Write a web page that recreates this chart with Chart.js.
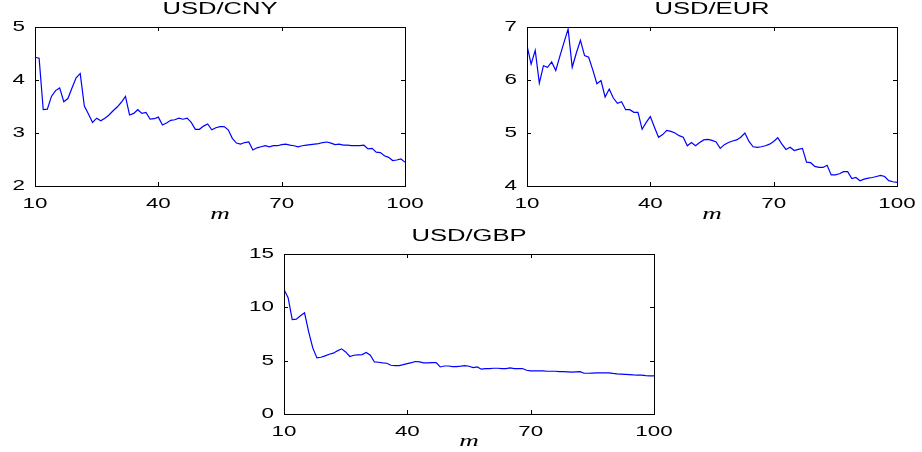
<!DOCTYPE html>
<html>
<head>
<meta charset="utf-8">
<script src="https://cdn.jsdelivr.net/npm/chart.js@4.4.0/dist/chart.umd.min.js"></script>
<style>
  html, body { margin: 0; padding: 0; background: #fff; width: 922px; height: 452px; overflow: hidden; }
  canvas { position: absolute; }
</style>
</head>
<body>
<canvas id="c1" width="440" height="225" style="left:0px;top:0px;width:440px;height:225px"></canvas>
<canvas id="c2" width="430" height="225" style="left:492px;top:0px;width:430px;height:225px"></canvas>
<canvas id="c3" width="440" height="225" style="left:239px;top:227px;width:440px;height:225px"></canvas>
<script>
// ---- data ----
const mValues = [10,11,12,13,14,15,16,17,18,19,20,21,22,23,24,25,26,27,28,29,30,31,32,33,34,35,36,37,38,39,
  40,41,42,43,44,45,46,47,48,49,50,51,52,53,54,55,56,57,58,59,60,61,62,63,64,65,66,67,68,69,
  70,71,72,73,74,75,76,77,78,79,80,81,82,83,84,85,86,87,88,89,90,91,92,93,94,95,96,97,98,99,100];

const usdCny = [4.43,4.41,3.44,3.45,3.69,3.80,3.85,3.59,3.65,3.85,4.04,4.12,3.51,3.36,3.20,3.28,3.23,3.28,3.34,3.42,
  3.49,3.58,3.69,3.34,3.37,3.44,3.37,3.39,3.26,3.27,3.30,3.15,3.19,3.24,3.25,3.28,3.26,3.28,3.20,3.07,
  3.07,3.13,3.17,3.06,3.10,3.12,3.12,3.06,2.90,2.81,2.79,2.82,2.83,2.68,2.72,2.74,2.76,2.74,2.76,2.76,
  2.78,2.79,2.77,2.76,2.74,2.76,2.77,2.78,2.79,2.80,2.82,2.83,2.81,2.78,2.79,2.77,2.77,2.76,2.76,2.76,
  2.77,2.70,2.71,2.64,2.63,2.57,2.54,2.48,2.49,2.51,2.45];

const usdEur = [6.65,6.30,6.56,5.94,6.27,6.24,6.34,6.18,6.45,6.71,6.96,6.24,6.51,6.75,6.46,6.43,6.19,5.93,5.99,5.68,
  5.83,5.66,5.56,5.59,5.44,5.44,5.39,5.39,5.07,5.20,5.31,5.11,4.92,4.97,5.05,5.03,5.00,4.95,4.92,4.76,
  4.82,4.76,4.82,4.87,4.88,4.86,4.83,4.71,4.78,4.82,4.85,4.87,4.92,5.00,4.84,4.74,4.73,4.74,4.76,4.79,
  4.84,4.91,4.79,4.69,4.73,4.67,4.69,4.71,4.45,4.44,4.37,4.35,4.35,4.39,4.21,4.21,4.23,4.27,4.27,4.14,
  4.16,4.10,4.13,4.15,4.16,4.18,4.20,4.18,4.10,4.08,4.07];

const usdGbp = [11.68,10.90,8.86,8.89,9.21,9.49,7.70,6.20,5.26,5.32,5.45,5.60,5.70,5.92,6.11,5.82,5.39,5.51,5.54,5.57,
  5.76,5.51,4.88,4.85,4.79,4.76,4.57,4.54,4.54,4.63,4.73,4.82,4.92,4.88,4.79,4.79,4.82,4.82,4.41,4.50,
  4.50,4.44,4.44,4.48,4.54,4.48,4.35,4.41,4.20,4.26,4.26,4.29,4.29,4.26,4.26,4.32,4.26,4.26,4.26,4.10,
  4.04,4.04,4.04,4.04,4.01,4.01,4.01,3.98,3.97,3.95,3.92,3.95,3.97,3.82,3.82,3.84,3.85,3.86,3.86,3.85,
  3.80,3.76,3.74,3.72,3.70,3.66,3.65,3.64,3.60,3.58,3.57];

const xTicks = [10, 40, 70, 100];
const panelTitles = ['USD/CNY', 'USD/EUR', 'USD/GBP'];
const xAxisLabel = 'm';

// ---- text rendering: the reference uses horizontally wide glyphs ----
const TEXT_STRETCH = 1.6;
const _fillText = CanvasRenderingContext2D.prototype.fillText;
CanvasRenderingContext2D.prototype.fillText = function (t, x, y) {
  this.save();
  this.translate(x, y);
  this.scale(TEXT_STRETCH, 1);
  _fillText.call(this, t, 0, 0);
  this.restore();
};

// box + inward ticks like MATLAB axes
const boxPlugin = {
  id: 'boxPlugin',
  afterDraw(chart) {
    const { ctx, chartArea: a, scales } = chart;
    ctx.save();
    ctx.strokeStyle = '#000';
    ctx.lineWidth = 1;
    ctx.strokeRect(Math.round(a.left) + 0.5, Math.round(a.top) + 0.5,
                   Math.round(a.right - a.left), Math.round(a.bottom - a.top));
    const L = 4;
    ctx.beginPath();
    scales.x.ticks.forEach(t => {
      const px = Math.round(scales.x.getPixelForValue(t.value)) + 0.5;
      ctx.moveTo(px, a.bottom); ctx.lineTo(px, a.bottom - L);
      ctx.moveTo(px, a.top); ctx.lineTo(px, a.top + L);
    });
    scales.y.ticks.forEach(t => {
      const py = Math.round(scales.y.getPixelForValue(t.value)) + 0.5;
      ctx.moveTo(a.left, py); ctx.lineTo(a.left + L, py);
      ctx.moveTo(a.right, py); ctx.lineTo(a.right - L, py);
    });
    ctx.stroke();
    ctx.restore();
  }
};

function makePanel(id, title, values, yMin, yMax, yStep, yAxisW, xAxisH, padRight) {
  const pts = mValues.map((m, i) => ({ x: m, y: values[i] }));
  return new Chart(document.getElementById(id), {
    type: 'line',
    data: {
      datasets: [{
        data: pts,
        borderColor: '#0000ff',
        borderWidth: 1.2,
        pointRadius: 0,
        tension: 0,
        fill: false
      }]
    },
    options: {
      responsive: false,
      animation: false,
      devicePixelRatio: 1,
      layout: { padding: { left: 0, right: padRight, top: 0, bottom: 0 } },
      plugins: {
        legend: { display: false },
        tooltip: { enabled: false },
        title: {
          display: true,
          text: title,
          fullSize: false,
          color: '#000',
          font: { family: 'Liberation Sans, Arial, sans-serif', size: 16, weight: 'normal', lineHeight: 1 },
          padding: { top: 2, bottom: 9 }
        }
      },
      scales: {
        x: {
          type: 'linear',
          min: 10, max: 100,
          afterBuildTicks: s => { s.ticks = xTicks.map(v => ({ value: v })); },
          afterFit: s => { s.height = xAxisH; },
          grid: { display: false, drawTicks: false },
          border: { display: false },
          ticks: {
            color: '#000',
            padding: 10,
            maxRotation: 0,
            autoSkip: false,
            font: { family: 'Liberation Sans, Arial, sans-serif', size: 14 }
          },
          title: {
            display: true,
            text: xAxisLabel,
            color: '#000',
            font: { family: 'Liberation Serif, DejaVu Serif, serif', size: 17, style: 'italic', lineHeight: 1 },
            padding: { top: 0, bottom: 2 }
          }
        },
        y: {
          min: yMin, max: yMax,
          afterFit: s => { s.width = yAxisW; },
          grid: { display: false, drawTicks: false },
          border: { display: false },
          ticks: {
            color: '#000',
            stepSize: yStep,
            padding: 10,
            font: { family: 'Liberation Sans, Arial, sans-serif', size: 14 }
          }
        }
      }
    },
    plugins: [boxPlugin]
  });
}

makePanel('c1', panelTitles[0], usdCny, 2, 5, 1, 35, 39, 35);
makePanel('c2', panelTitles[1], usdEur, 4, 7, 1, 35, 39, 25);
makePanel('c3', panelTitles[2], usdGbp, 0, 15, 5, 45, 38, 25);
</script>
</body>
</html>
